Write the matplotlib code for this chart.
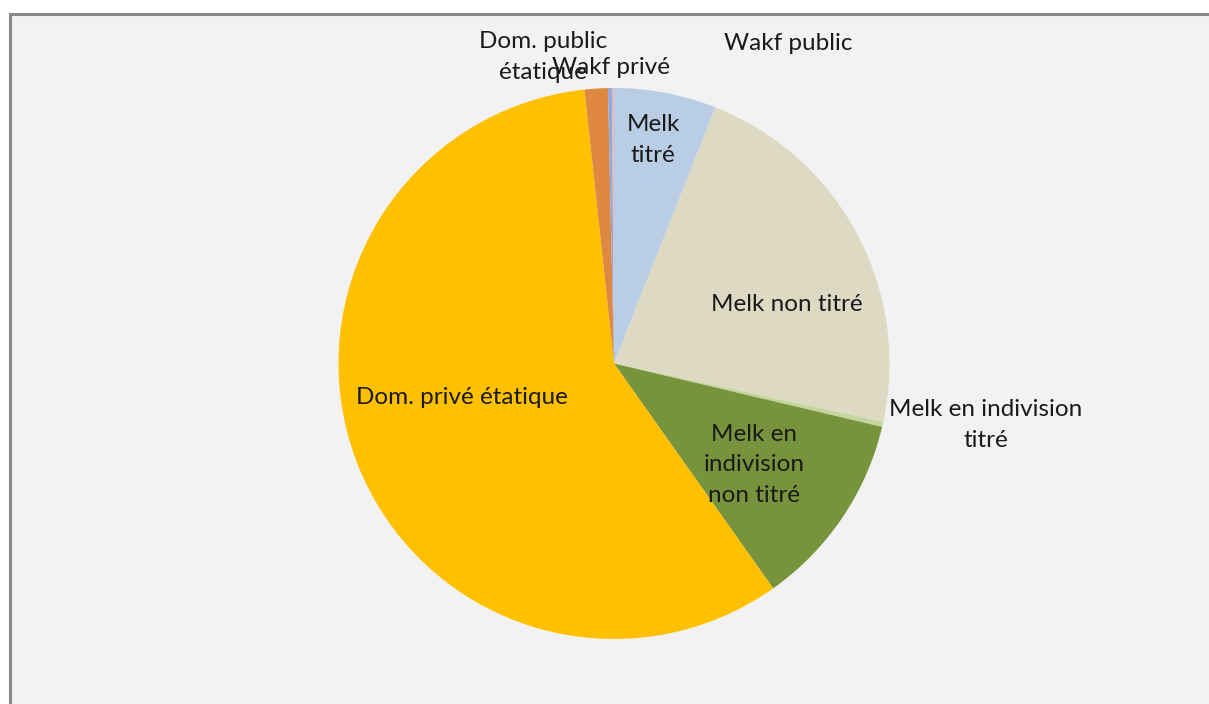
import matplotlib
matplotlib.use("Agg")
import matplotlib.pyplot as plt
from matplotlib.patches import Rectangle

# Land tenure categories (share of total area, %)
categories = [
    "Melk titré",
    "Melk non titré",
    "Melk en indivision titré",
    "Melk en indivision non titré",
    "Dom. privé étatique",
    "Dom. public étatique",
    "Wakf privé",
    "Wakf public",
]
shares = [6.0, 22.4, 0.3, 11.5, 58.1, 1.36, 0.23, 0.12]
label_texts = [
    "Melk\ntitré",
    "Melk non titré",
    "Melk en indivision\ntitré",
    "Melk en\nindivision\nnon titré",
    "Dom. privé étatique",
    "Dom. public\nétatique",
    "Wakf privé",
    "Wakf public",
]
colors = ["#B9CDE5", "#DDD9C3", "#C3D69B", "#77933C",
          "#FFC000", "#DE8841", "#8EA9DB", "#E6B9B8"]

W, H = 1209, 704
fig = plt.figure(figsize=(W / 100, H / 100), dpi=100)
fig.patch.set_facecolor("white")

# chart area background with grey border (runs off the right and bottom edges)
bg_ax = fig.add_axes([0, 0, 1, 1], zorder=0)
bg_ax.set_xlim(0, W)
bg_ax.set_ylim(H, 0)
bg_ax.axis("off")
bg_ax.add_patch(Rectangle((10, 14), W + 20, H + 20, facecolor="#F2F2F2",
                          edgecolor="#888888", linewidth=2.2))

cx, cy, R = 614, 363.5, 275.5
ax = fig.add_axes([(cx - R) / W, (H - cy - R) / H, 2 * R / W, 2 * R / H],
                  zorder=1)

ax.pie(shares, colors=colors, startangle=90, counterclock=False,
       radius=1.0, wedgeprops=dict(linewidth=0))
ax.set_xlim(-1, 1)
ax.set_ylim(-1, 1)
ax.set_aspect("equal")
ax.axis("off")

# label positions in pixel space, converted to data units
label_px = [
    (653, 140),
    (787, 305),
    (986, 425),
    (754, 465),
    (462, 398),
    (543, 57),
    (611, 67),
    (788, 43),
]
for txt, (px, py) in zip(label_texts, label_px):
    ax.text((px - cx) / R, (cy - py) / R, txt, ha="center", va="center",
            fontsize=17.5, family=["Lato", "DejaVu Sans"], color="#1a1a1a",
            linespacing=1.55, clip_on=False)

fig.savefig("out.png", dpi=100, facecolor=fig.get_facecolor())
